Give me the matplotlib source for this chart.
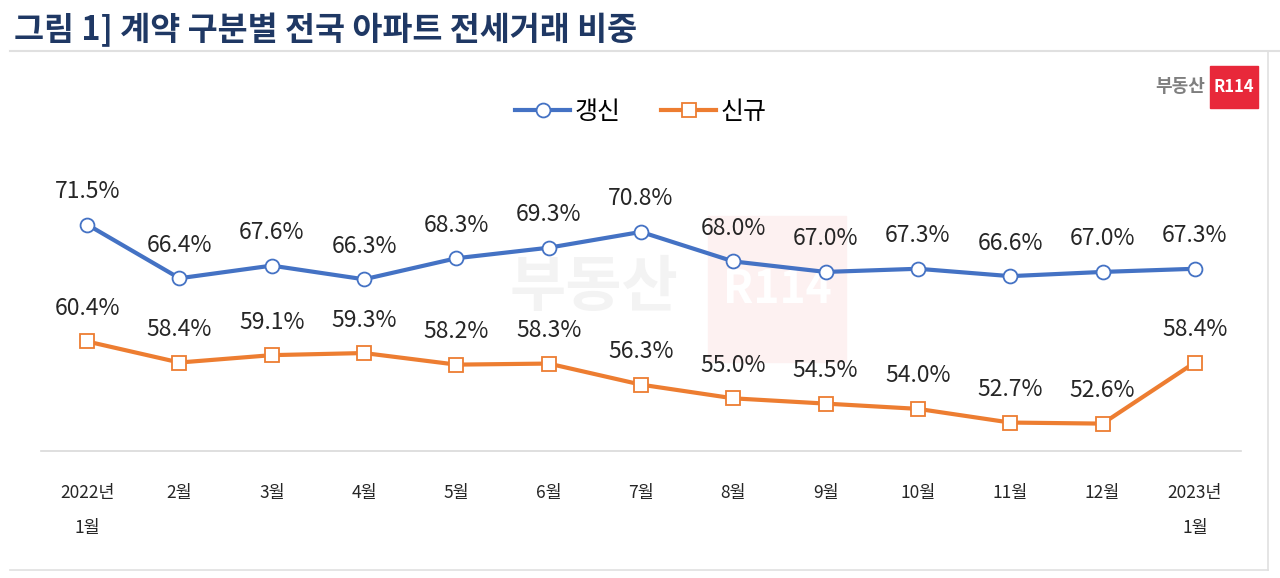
import matplotlib.pyplot as plt
from matplotlib.patches import Rectangle

plt.rcParams['font.family'] = ['Noto Sans CJK KR', 'DejaVu Sans']

months = ["2022년\n1월", "2월", "3월", "4월", "5월", "6월", "7월", "8월", "9월", "10월", "11월", "12월", "2023년\n1월"]
renewal = [71.5, 66.4, 67.6, 66.3, 68.3, 69.3, 70.8, 68.0, 67.0, 67.3, 66.6, 67.0, 67.3]
new = [60.4, 58.4, 59.1, 59.3, 58.2, 58.3, 56.3, 55.0, 54.5, 54.0, 52.7, 52.6, 58.4]

blue = "#4472C4"
orange = "#ED7D31"

fig = plt.figure(figsize=(12.8, 5.78), dpi=100)

# watermark (behind everything)
fig.text(510/1280, 1-288/578, "부동산", fontsize=44, fontweight="bold", color="#f3f3f3", ha="left", va="center", zorder=-2)
fig.add_artist(Rectangle((708/1280, 1-362/578), 138/1280, 146/578, color="#fdf1f1", transform=fig.transFigure, zorder=-3))
fig.text(777/1280, 1-290/578, "R114", fontsize=32, fontweight="bold", color="white", ha="center", va="center", zorder=-2)

ax = fig.add_axes([41/1280, 1-451/578, 1200/1280, 316/578])
ax.set_zorder(1)
ax.patch.set_alpha(0)

x = range(len(months))
ax.plot(x, renewal, color=blue, lw=3, marker="o", ms=10, mfc="white", mec=blue, mew=1.3, label="갱신")
ax.plot(x, new, color=orange, lw=3, marker="s", ms=10, mfc="white", mec=orange, mew=1.3, label="신규")

for i in x:
    ax.annotate(f"{renewal[i]:.1f}%", (i, renewal[i]), xytext=(0, 15.5), textcoords="offset points",
                ha="center", va="bottom", fontsize=16.5, color="#262626")
    ax.annotate(f"{new[i]:.1f}%", (i, new[i]), xytext=(0, 15.5), textcoords="offset points",
                ha="center", va="bottom", fontsize=16.5, color="#262626")

ax.set_xlim(-0.5, len(months) - 0.5)
ax.set_ylim(50, 80)
ax.set_xticks(list(x))
ax.set_xticklabels(months, fontsize=12.5, color="#262626", linespacing=2.2, va="top")
ax.tick_params(axis="x", length=0, pad=24)
ax.set_yticks([])
for s in ["top", "right", "left"]:
    ax.spines[s].set_visible(False)
ax.spines["bottom"].set_color("#d9d9d9")
ax.spines["bottom"].set_linewidth(1.2)

ax.legend(loc="center", bbox_to_anchor=(0.5, (451-112)/316), ncol=2, frameon=False,
          fontsize=18, handlelength=2.2, columnspacing=1.6, handletextpad=0.2)

# title and frame
fig.text(14/1280, 1-30/578, "그림 1] 계약 구분별 전국 아파트 전세거래 비중", fontsize=23.5, fontweight="bold",
         color="#1f3864", va="center", ha="left")
fig.add_artist(plt.Line2D([10/1280, 1], [1-51/578, 1-51/578], color="#e0e0e0", lw=1.5))
fig.add_artist(plt.Line2D([1268/1280, 1268/1280], [1-51/578, 1-570/578], color="#e0e0e0", lw=1.2))
fig.add_artist(plt.Line2D([10/1280, 1268/1280], [1-570/578, 1-570/578], color="#e0e0e0", lw=1.2))

# logo
fig.text(1205/1280, 1-86/578, "부동산", fontsize=13, fontweight="bold", color="#7f7f7f", ha="right", va="center")
fig.add_artist(Rectangle((1210/1280, 1-108/578), 48/1280, 42/578, color="#e8283a", transform=fig.transFigure))
fig.text(1234/1280, 1-87/578, "R114", fontsize=12, fontweight="bold", color="white", ha="center", va="center")

fig.savefig("out.png", dpi=100)
